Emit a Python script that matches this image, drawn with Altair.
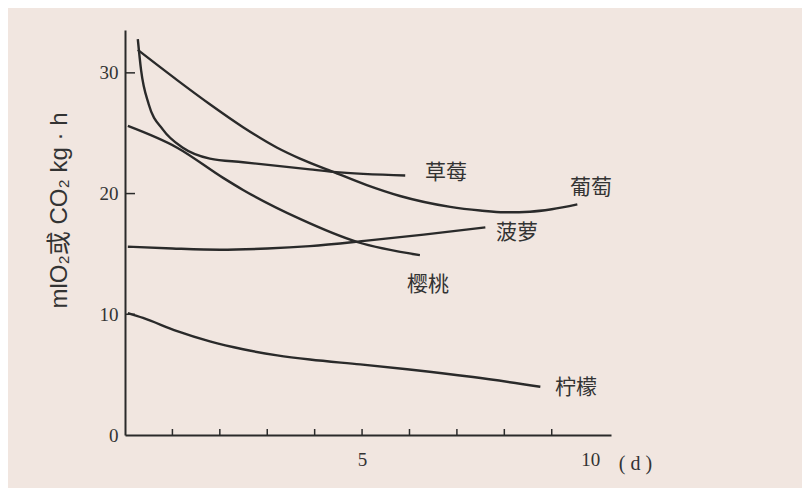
import altair as alt
import pandas as pd

# ---- data ----
strawberry_days = [0.27, 0.34, 0.50, 0.80, 1.22, 1.79, 2.49, 3.90, 4.39, 5.91]
strawberry_vals = [32.8, 30.2, 27.4, 25.3, 23.8, 22.9, 22.6, 22.0, 21.8, 21.5]

grape_days = [0.27, 1.10, 1.79, 2.49, 3.21, 3.69, 4.39, 5.10, 5.80, 6.86, 7.49, 8.00, 8.54, 9.00, 9.54]
grape_vals = [31.9, 29.4, 27.4, 25.5, 23.8, 22.9, 21.8, 20.7, 19.8, 18.9, 18.6, 18.45, 18.5, 18.7, 19.1]

cherry_days = [0.06, 1.10, 2.07, 2.49, 3.69, 4.89, 6.22]
cherry_vals = [25.6, 23.8, 21.3, 20.3, 17.9, 16.0, 14.9]

pineapple_days = [0.06, 1.0, 2.0, 3.0, 3.9, 5.1, 6.3, 7.6]
pineapple_vals = [15.6, 15.45, 15.35, 15.45, 15.65, 16.1, 16.6, 17.2]

lemon_days = [0.06, 0.38, 1.10, 1.79, 2.49, 3.21, 3.90, 4.96, 5.95, 7.34, 8.76]
lemon_vals = [10.1, 9.7, 8.6, 7.75, 7.1, 6.6, 6.25, 5.85, 5.45, 4.8, 4.0]

label_names = ["草莓", "葡萄", "菠萝", "樱桃", "柠檬"]
label_days = [6.77, 9.83, 8.27, 6.39, 9.51]
label_vals = [21.7, 20.5, 16.7, 12.4, 3.9]

x_tick_days = [1, 2, 3, 4, 5, 6, 7, 8, 9]
y_tick_vals = [10, 20, 30]
x_label_vals = [5, 10]
y_label_vals = [0, 10, 20, 30]

y_title = "mlO₂或 CO₂  kg · h"

# ---- build tables ----
series = {
    "草莓": (strawberry_days, strawberry_vals),
    "葡萄": (grape_days, grape_vals),
    "樱桃": (cherry_days, cherry_vals),
    "菠萝": (pineapple_days, pineapple_vals),
    "柠檬": (lemon_days, lemon_vals),
}
rows = []
for name, (ds, vs) in series.items():
    for i, (d, v) in enumerate(zip(ds, vs)):
        rows.append({"fruit": name, "day": d, "val": v, "i": i})
lines_df = pd.DataFrame(rows)
labels_df = pd.DataFrame({"name": label_names, "day": label_days, "val": label_vals})
xt_df = pd.DataFrame({"day": x_tick_days})
yt_df = pd.DataFrame({"val": y_tick_vals})

INK = "#2a2a2a"
BG = "#F1E6E0"
W, H = 486, 405

xscale = alt.Scale(domain=[0, 10.25], nice=False, zero=True)
yscale = alt.Scale(domain=[0, 33.55], nice=False, zero=True)

xaxis = alt.Axis(
    values=x_label_vals, tickSize=0, grid=False, domainColor=INK, domainWidth=2,
    labelFont="Liberation Serif", labelFontSize=19, labelColor="#333",
    labelPadding=24, labelBaseline="middle", labelFlush=False,
    labelOffset={"condition": {"test": "datum.value == 10", "value": -9}, "value": 0},
    title="( d )", titleFont="Liberation Serif", titleFontSize=20,
    titleFontWeight="normal", titleColor="#333", titleX=510, titleY=28,
    titleBaseline="middle", titleAlign="center",
)
yaxis = alt.Axis(
    values=y_label_vals, tickSize=0, grid=False, domainColor=INK, domainWidth=2,
    labelFont="Liberation Serif", labelFontSize=19, labelColor="#333",
    labelPadding=7, labelFlush=False,
    title=y_title, titleFont="Liberation Sans, Noto Sans CJK SC", titleFontSize=24,
    titleFontWeight="normal", titleColor="#333", titleAngle=270,
    titleX=-66, titleY=180, titleBaseline="middle", titleAlign="center",
)

lines = alt.Chart(lines_df).mark_line(
    interpolate="monotone", strokeWidth=2.4, color=INK
).encode(
    x=alt.X("day:Q", scale=xscale, axis=xaxis),
    y=alt.Y("val:Q", scale=yscale, axis=yaxis),
    detail="fruit:N",
    order="i:Q",
)

texts = alt.Chart(labels_df).mark_text(
    font="Noto Sans CJK SC", fontSize=21, color="#333"
).encode(
    x=alt.X("day:Q", scale=xscale),
    y=alt.Y("val:Q", scale=yscale),
    text="name:N",
)

xticks = alt.Chart(xt_df).mark_rule(color=INK, strokeWidth=1.5).encode(
    x=alt.X("day:Q", scale=xscale),
    y=alt.value(H),
    y2=alt.value(H - 6),
)

yticks = alt.Chart(yt_df).mark_rule(color=INK, strokeWidth=1.5).encode(
    y=alt.Y("val:Q", scale=yscale),
    x=alt.value(0),
    x2=alt.value(10),
)

chart = alt.layer(xticks, yticks, lines, texts).properties(
    width=W, height=H,
    autosize=alt.AutoSizeParams(type="none"),
    padding={"left": 117, "top": 22, "right": 191, "bottom": 53},
    background=BG,
).configure_view(stroke=None)

chart.save("out.html", embed_options={"renderer": "svg", "actions": False})
